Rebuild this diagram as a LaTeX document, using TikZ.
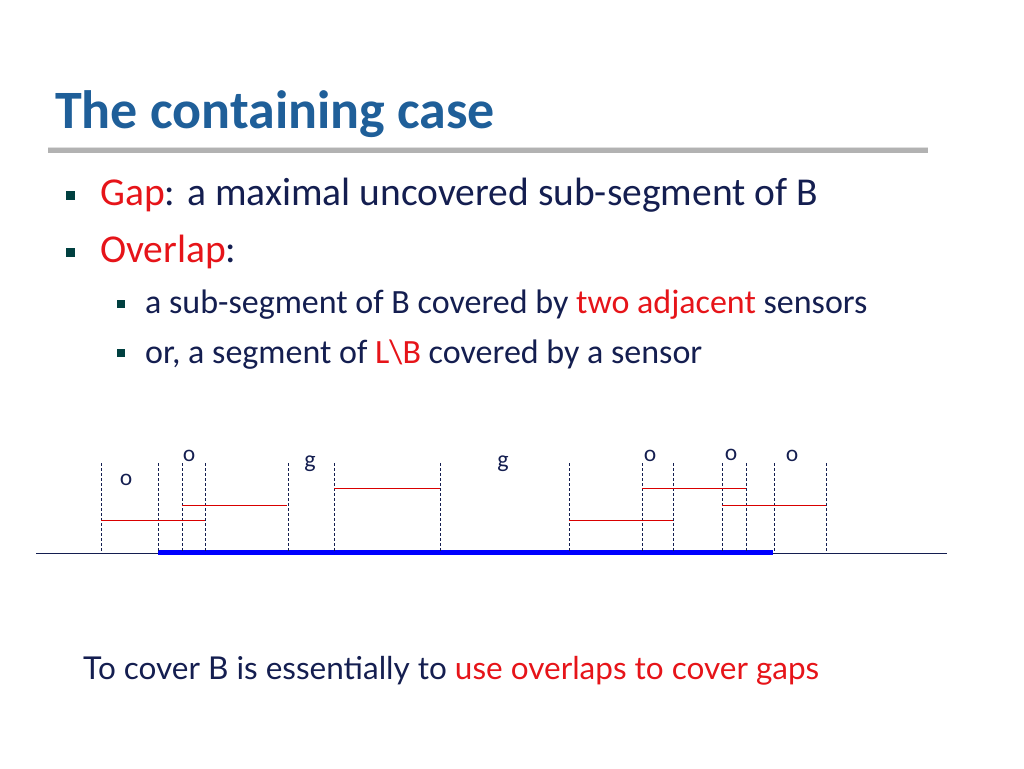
\documentclass[tikz,border=0pt]{standalone}
\usepackage{fontspec}
\setmainfont{Carlito}
\newfontfamily\gill{Lato}
\begin{document}
\begin{tikzpicture}[x=1pt,y=-1pt,
  txt/.style={anchor=base west,inner sep=0pt,text=navy},
  bul/.style={fill=teal!50!black,minimum size=9pt,inner sep=0pt},
  sbul/.style={fill=teal!50!black,minimum size=8pt,inner sep=0pt},
  dl/.style={densely dashed,navy,line width=0.6pt},
  rl/.style={red!85!black,line width=0.9pt},
  lab/.style={text=navy,font=\gill\fontsize{22}{22}\selectfont,inner sep=0pt}]
\definecolor{navy}{RGB}{20,30,80}
\definecolor{ttl}{RGB}{31,95,153}
\definecolor{rd}{RGB}{230,20,25}
\useasboundingbox (0,0) rectangle (1024,768);
\node[txt,text=ttl,font=\bfseries\fontsize{54}{56}\selectfont] (title) at (55,128) {The containing case};
\fill[gray!60] (48,148) rectangle (928,153);
\fill[gray!25] (48,146.5) rectangle (928,148);
\node[bul] (b1) at (70,195) {};
\node[txt,font=\fontsize{39.5}{42}\selectfont] (t1) at (100,205) {\textcolor{rd}{Gap}: a maximal uncovered sub-segment of B};
\node[bul] (b2) at (70,252) {};
\node[txt,font=\fontsize{39.5}{42}\selectfont] (t2) at (100,262) {\textcolor{rd}{Overlap}:};
\node[sbul] (b3) at (121,304) {};
\node[txt,font=\fontsize{34}{36}\selectfont] (t3) at (145,313) {a sub-segment of B covered by \textcolor{rd}{two adjacent} sensors};
\node[sbul] (b4) at (121,353) {};
\node[txt,font=\fontsize{34}{36}\selectfont] (t4) at (145,363) {or, a segment of \textcolor{rd}{L\textbackslash B} covered by a sensor};
% baseline
\coordinate (L0) at (36,553); \coordinate (L1) at (947,553);
\draw[navy,line width=0.8pt] (L0) -- (L1);
\coordinate (B0) at (158,552); \coordinate (B1) at (773,552);
\draw[blue,line width=5pt] (B0) -- (B1);
\foreach \x in {101,158,182,205,288,334,440,569,642,673,722,746,774,826}
  \draw[dl] (\x,463) -- (\x,552);
\draw[rl] (101,520) -- (205,520);
\draw[rl] (182,505) -- (287,505);
\draw[rl] (334,488) -- (440,488);
\draw[rl] (569,520) -- (673,520);
\draw[rl] (642,488) -- (746,488);
\draw[rl] (722,505) -- (826,505);
\node[lab] (o1) at (126,480) {o};
\node[lab] (o2) at (189,456) {o};
\node[lab] (o3) at (650,456) {o};
\node[lab] (o4) at (731,455) {o};
\node[lab] (o5) at (792,456) {o};
\node[lab,font=\fontsize{24}{24}\selectfont] (g1) at (310,464) {g};
\node[lab,font=\fontsize{24}{24}\selectfont] (g2) at (503,464) {g};
\node[txt,font=\gill\fontsize{31.5}{33}\selectfont] (bot) at (83,679) {To cover B is essentially to \textcolor{rd}{use overlaps to cover gaps}};
\end{tikzpicture}
\end{document}
